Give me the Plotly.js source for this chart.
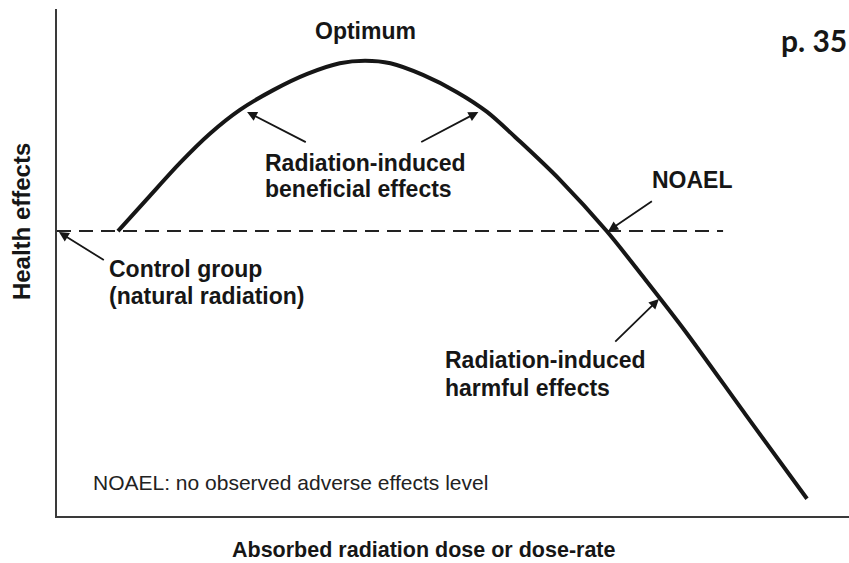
<!DOCTYPE html>
<html>
<head>
<meta charset="utf-8">
<script src="https://cdn.plot.ly/plotly-3.0.1.min.js"></script>
<style>
  html, body { margin: 0; padding: 0; background: #ffffff; }
  #chart { width: 849px; height: 563px; }
</style>
</head>
<body>
<div id="chart"></div>
<script>
// Hormesis dose-response curve (arbitrary units 0-100)
const dose   = [7.7, 11.7, 15.5, 19.3, 23.1, 27.3, 31.6, 35.7, 38.9, 42.1, 46.2, 50.5, 54.3, 58.5, 63.5, 69.4, 74.2, 79.3, 86.9, 94.7];
const effect = [56.2, 63.1, 69.6, 75.4, 80.1, 84.0, 87.2, 89.3, 89.8, 89.3, 87.0, 83.6, 79.7, 73.8, 66.3, 56.2, 46.8, 36.5, 20.1, 3.4];
const controlLevel = 56.2;
const baselineDose = [0, 84.1];

const xTitle = 'Absorbed radiation dose or dose-rate';
const yTitle = 'Health effects';
const noteText = 'NOAEL: no observed adverse effects level';
const pageLabel = 'p. 35';

const ink = '#161616';
const boldFont = {family: 'Liberation Sans, Arial, sans-serif', size: 23, color: ink, weight: 700};

const traces = [
  {
    x: baselineDose,
    y: baselineDose.map(() => controlLevel),
    type: 'scatter', mode: 'lines',
    line: {color: '#222', width: 2, dash: '14px,8px'},
    hoverinfo: 'skip', showlegend: false
  },
  {
    x: dose, y: effect,
    type: 'scatter', mode: 'lines',
    line: {color: ink, width: 4, shape: 'spline', smoothing: 0.8},
    hoverinfo: 'skip', showlegend: false
  }
];

function label(text, x, y, extra) {
  return Object.assign({
    text: text, x: x, y: y, xref: 'x', yref: 'y',
    xanchor: 'left', yanchor: 'middle', showarrow: false,
    font: boldFont, borderpad: 0
  }, extra || {});
}
function arrow(x, y, ax, ay) {
  return {
    text: '', x: x, y: y, ax: ax, ay: ay, xref: 'x', yref: 'y', axref: 'x', ayref: 'y',
    showarrow: true, arrowhead: 2, arrowsize: 1.1, arrowwidth: 1.8, arrowcolor: ink, standoff: 0
  };
}

const annotations = [
  label('Optimum', 38.9, 95.7, {xanchor: 'center'}),
  label('Radiation-induced', 26.1, 69.6),
  label('beneficial effects', 26.1, 64.5),
  label('NOAEL', 75.0, 66.3),
  label('Control group', 6.4, 48.7),
  label('(natural radiation)', 6.4, 43.4),
  label('Radiation-induced', 48.9, 30.8),
  label('harmful effects', 48.9, 25.3),
  label(noteText, 4.4, 6.7, {font: {family: 'Liberation Sans, Arial, sans-serif', size: 21, color: '#222', weight: 400}}),
  {text: pageLabel, xref: 'paper', yref: 'paper', x: 1.0, y: 0.939, xanchor: 'right', yanchor: 'middle',
   showarrow: false, font: {family: 'Lato, sans-serif', size: 30, color: ink, weight: 700}},
  {text: xTitle, xref: 'paper', yref: 'paper', x: 0.463, y: -0.067, xanchor: 'center', yanchor: 'middle',
   showarrow: false, font: {family: 'Liberation Sans, Arial, sans-serif', size: 21.5, color: ink, weight: 700}},
  {text: yTitle, xref: 'paper', yref: 'paper', x: -0.044, y: 0.58, xanchor: 'center', yanchor: 'middle',
   textangle: -90, showarrow: false, font: {family: 'Liberation Sans, Arial, sans-serif', size: 24, color: ink, weight: 700}},
  arrow(24.0, 79.7, 31.6, 73.6),
  arrow(53.2, 79.7, 45.8, 73.6),
  arrow(69.6, 56.2, 75.3, 62.3),
  arrow(0.25, 56.0, 6.1, 50.3),
  arrow(76.0, 42.8, 70.3, 34.1)
];

const layout = {
  width: 849, height: 563,
  margin: {l: 57, r: 0, t: 9, b: 47, pad: 0},
  paper_bgcolor: '#ffffff', plot_bgcolor: '#ffffff',
  showlegend: false,
  xaxis: {range: [0, 100], showgrid: false, zeroline: false, showticklabels: false, ticks: '',
          showline: true, linecolor: '#3a3a3a', linewidth: 2, fixedrange: true},
  yaxis: {range: [0, 100], showgrid: false, zeroline: false, showticklabels: false, ticks: '',
          showline: true, linecolor: '#3a3a3a', linewidth: 2, fixedrange: true},
  annotations: annotations
};

Plotly.newPlot('chart', traces, layout, {displayModeBar: false, staticPlot: true});
</script>
</body>
</html>
